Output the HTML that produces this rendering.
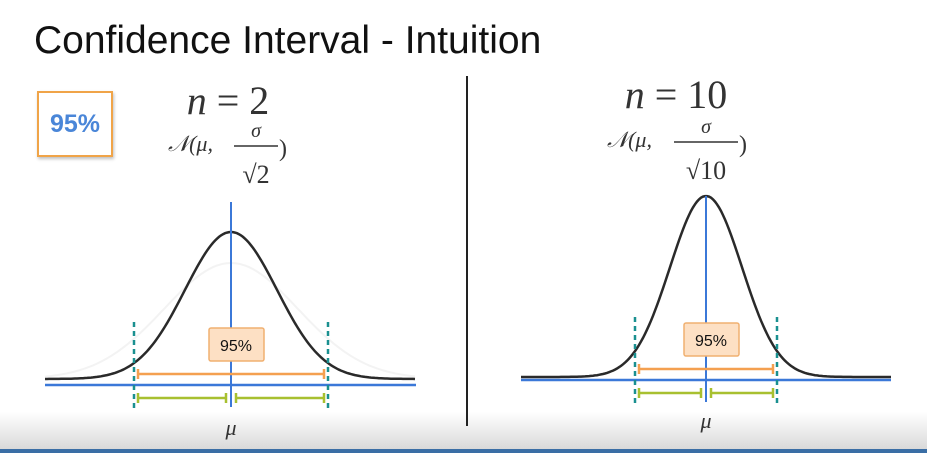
<!DOCTYPE html>
<html><head><meta charset="utf-8"><style>
html,body{margin:0;padding:0;background:#fff;}
body{width:927px;height:453px;position:relative;overflow:hidden;font-family:"Liberation Sans",sans-serif;}
#title{position:absolute;left:34px;top:19px;font-size:39px;color:#111;white-space:nowrap;}
#box{position:absolute;left:37px;top:91px;width:72px;height:62px;border:2px solid #f0a448;box-shadow:1px 2px 3px rgba(0,0,0,.25);color:#4a86d8;font-weight:bold;font-size:25px;line-height:62px;text-align:center;}
</style></head><body>
<div id="title">Confidence Interval - Intuition</div>
<div id="box">95%</div>
<svg id="chart" width="927" height="453" style="position:absolute;left:0;top:0">
<defs><linearGradient id="fade" x1="0" y1="0" x2="0" y2="1"><stop offset="0" stop-color="#fff"/><stop offset="1" stop-color="#d8d8d8"/></linearGradient></defs>
<rect x="0" y="412" width="927" height="38" fill="url(#fade)"/>
<rect x="0" y="449" width="927" height="4" fill="#3a6ea5"/>
<line x1="467" y1="76" x2="467" y2="426" stroke="#222" stroke-width="2"/>
<g font-family="Liberation Serif,serif" fill="#333">
<text x="228" y="114" font-size="40" text-anchor="middle"><tspan font-style="italic">n</tspan> = 2</text>
<text x="168" y="151" font-size="22" font-style="italic">𝒩(μ,</text>
<text x="256" y="137" font-size="20" font-style="italic" text-anchor="middle">σ</text>
<line x1="234" y1="146" x2="278" y2="146" stroke="#333" stroke-width="1.5"/>
<text x="256" y="183" font-size="26" text-anchor="middle">√2</text>
<text x="279" y="156" font-size="24">)</text>
<text x="676" y="108" font-size="40" text-anchor="middle"><tspan font-style="italic">n</tspan> = 10</text>
<text x="607" y="147" font-size="22" font-style="italic">𝒩(μ,</text>
<text x="706" y="133" font-size="20" font-style="italic" text-anchor="middle">σ</text>
<line x1="674" y1="142" x2="738" y2="142" stroke="#333" stroke-width="1.5"/>
<text x="706" y="179" font-size="26" text-anchor="middle">√10</text>
<text x="739" y="152" font-size="24">)</text>
</g>
</svg>
<script>
const panelNames = ["n2","n10"];
const centers = [231, 706];
const sigmas = [46, 36];
const peaks = [232, 196];
const tails = [379, 377];
const baselines = [385, 380];
const ciLow = [134, 635];
const ciHigh = [328, 777];
const spanLeft = [45, 521];
const spanRight = [416, 891];
const NS="http://www.w3.org/2000/svg";
const svg=document.getElementById('chart');
function mk(tag,attrs){const e=document.createElementNS(NS,tag);for(const k in attrs)e.setAttribute(k,attrs[k]);svg.appendChild(e);return e;}
for(let i=0;i<2;i++){
  const c=centers[i],s=sigmas[i],b=baselines[i];
  if(i===0){let d='';for(let x=spanLeft[i];x<=spanRight[i];x+=2){const y=tails[i]-(tails[i]-263)*Math.exp(-((x-c)**2)/(2*(s*1.45)**2));d+=(d?'L':'M')+x+' '+y.toFixed(1);}
    const g=mk('path',{d:d,fill:'none',stroke:'#f3f3f3','stroke-width':2});
    
    }
  let d='';for(let x=spanLeft[i];x<=spanRight[i];x+=2){const y=tails[i]-(tails[i]-peaks[i])*Math.exp(-((x-c)**2)/(2*s*s));d+=(d?'L':'M')+x+' '+y.toFixed(1);}
  const p=mk('path',{d:d,fill:'none',stroke:'#2a2a2a','stroke-width':2.5});
  
  
  const ax=mk('line',{x1:spanLeft[i],y1:b,x2:spanRight[i],y2:b,stroke:'#3b78d8','stroke-width':2.5});
  
  
  const mv=mk('line',{x1:c,y1:peaks[i]-30+ (i?30:0),x2:c,y2:b+22,stroke:'#3b78d8','stroke-width':2});
  
  
  for(const x of [ciLow[i],ciHigh[i]]){
    const dl=mk('line',{x1:x,y1:b-63,x2:x,y2:b+25,stroke:'#1a9090','stroke-width':2.5,'stroke-dasharray':'5 4'});
    
    
  }
  const oy=b-11;
  const o=mk('path',{d:`M${ciLow[i]+4} ${oy}H${ciHigh[i]-4}M${ciLow[i]+4} ${oy-5}V${oy+5}M${ciHigh[i]-4} ${oy-5}V${oy+5}`,stroke:'#f4a050','stroke-width':2.5,fill:'none'});
  
  
  const gy=b+13;
  const g=mk('path',{d:`M${ciLow[i]+4} ${gy}H${c-5}M${ciLow[i]+4} ${gy-5}V${gy+5}M${c-5} ${gy-5}V${gy+5}M${c+5} ${gy}H${ciHigh[i]-4}M${c+5} ${gy-5}V${gy+5}M${ciHigh[i]-4} ${gy-5}V${gy+5}`,stroke:'#a8c030','stroke-width':2.5,fill:'none'});
  
  
  const r=mk('rect',{x:c-22,y:b-57,width:55,height:33,fill:'#fde0c4',stroke:'#f0b070','stroke-width':1.5,rx:2});
  
  
  const t=mk('text',{x:c+5,y:b-34,'font-size':16,'text-anchor':'middle','font-family':'Liberation Sans,sans-serif',fill:'#111'});
  t.textContent='95%';
  
  
  const m=mk('text',{x:c,y:b+(i?48:50),'font-size':22,'text-anchor':'middle','font-family':'Liberation Serif,serif','font-style':'italic',fill:'#333'});
  m.textContent='μ';
  
  
}
</script>
</body></html>
